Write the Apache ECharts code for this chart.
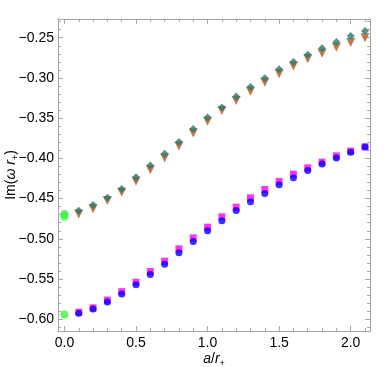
<!DOCTYPE html>
<html>
<head>
<meta charset="utf-8">
<script src="https://cdn.jsdelivr.net/npm/echarts@6/dist/echarts.min.js"></script>
<style>
html, body { margin: 0; padding: 0; background: #fff; }
#chart { width: 390px; height: 367px; }
</style>
</head>
<body>
<div id="chart"></div>
<script>
// a / r+ values
var aVals = [0.1, 0.2, 0.3, 0.4, 0.5, 0.6, 0.7, 0.8, 0.9, 1.0, 1.1,
             1.2, 1.3, 1.4, 1.5, 1.6, 1.7, 1.8, 1.9, 2.0, 2.1];
// upper branch
var tealDiamond = [-0.4652, -0.4580, -0.4490, -0.4380, -0.4236, -0.4088, -0.3942, -0.3797, -0.3636, -0.3493, -0.3366,
                   -0.3229, -0.3113, -0.3005, -0.2893, -0.2802, -0.2711, -0.2632, -0.2553, -0.2479, -0.2417];
var orangeTri = [-0.4690, -0.4625, -0.4525, -0.4420, -0.4285, -0.4140, -0.3995, -0.3845, -0.3685, -0.3537, -0.3405,
                 -0.3280, -0.3165, -0.3052, -0.2948, -0.2850, -0.2762, -0.2692, -0.2617, -0.2558, -0.2500];
// lower branch
var magentaSq = [-0.5912, -0.5858, -0.5762, -0.5657, -0.5539, -0.5406, -0.5277, -0.5124, -0.4988, -0.4855, -0.4726,
                 -0.4606, -0.4490, -0.4386, -0.4286, -0.4195, -0.4117, -0.4046, -0.3969, -0.3909, -0.3856];
var blueDot = [-0.5924, -0.5871, -0.5787, -0.5685, -0.5572, -0.5443, -0.5315, -0.5174, -0.5032, -0.4900, -0.4776,
               -0.4647, -0.4540, -0.4435, -0.4328, -0.4241, -0.4149, -0.4071, -0.3996, -0.3925, -0.3859];
// a = 0 points
var greenA = [0, 0, 0];
var greenY = [-0.4690, -0.4722, -0.5940];

// ticks
var xMajor = [0, 0.5, 1.0, 1.5, 2.0];
var xMinor = [0.1, 0.2, 0.3, 0.4, 0.6, 0.7, 0.8, 0.9, 1.1, 1.2, 1.3, 1.4, 1.6, 1.7, 1.8, 1.9, 2.1];
var yMajor = [-0.60, -0.55, -0.50, -0.45, -0.40, -0.35, -0.30, -0.25];
var yMinor = [-0.61, -0.59, -0.58, -0.57, -0.56, -0.54, -0.53, -0.52, -0.51, -0.49, -0.48, -0.47, -0.46,
              -0.44, -0.43, -0.42, -0.41, -0.39, -0.38, -0.37, -0.36, -0.34, -0.33, -0.32, -0.31,
              -0.29, -0.28, -0.27, -0.26, -0.24, -0.23];

var xMin = -0.045, xMax = 2.135;
var yMin = -0.6146, yMax = -0.2267;
var frameColor = '#a6a6a6';
var font = 'Liberation Sans, Arial, sans-serif';

function pairs(xs, ys) {
	var out = [];
	for (var i = 0; i < xs.length; i++) out.push([xs[i], ys[i]]);
	return out;
}

function xAx(pos, ticks, len, labels) {
	return {
		type : 'value', position : pos, min : xMin, max : xMax,
		axisLine : { show : true, onZero : false, lineStyle : { color : frameColor, width : 1 } },
		axisTick : { show : true, inside : true, length : len, customValues : ticks,
			lineStyle : { color : frameColor } },
		axisLabel : labels ? { show : true, customValues : xMajor, color : '#000', fontSize : 14,
			fontFamily : font, margin : 5,
			formatter : function (v) { return v.toFixed(1); } } : { show : false },
		splitLine : { show : false }
	};
}

function yAx(pos, ticks, len, labels) {
	return {
		type : 'value', position : pos, min : yMin, max : yMax,
		axisLine : { show : true, onZero : false, lineStyle : { color : frameColor, width : 1 } },
		axisTick : { show : true, inside : true, length : len, customValues : ticks,
			lineStyle : { color : frameColor } },
		axisLabel : labels ? { show : true, customValues : yMajor, color : '#000', fontSize : 14,
			fontFamily : font, margin : 4,
			formatter : function (v) { return v.toFixed(2).replace('-', '\u2212'); } } : { show : false },
		splitLine : { show : false }
	};
}

var xAxes = [xAx('bottom', xMajor, 5, true), xAx('bottom', xMinor, 3, false),
             xAx('top', xMajor, 5, false), xAx('top', xMinor, 3, false)];
xAxes[0].name = '{i|a}/{i|r}{s|+}';
xAxes[0].nameLocation = 'middle';
xAxes[0].nameGap = 20;
xAxes[0].nameMoveOverlap = false;
xAxes[0].nameTextStyle = { color : '#000', fontSize : 14, fontFamily : font,
	rich : { i : { fontStyle : 'italic', fontSize : 14, fontFamily : font },
	         s : { fontSize : 9, fontFamily : font, padding : [8, 0, 0, 0] } } };

var yAxes = [yAx('left', yMajor, 5, true), yAx('left', yMinor, 3, false),
             yAx('right', yMajor, 5, false), yAx('right', yMinor, 3, false)];
yAxes[0].name = 'Im({i|\u03c9 r}{s|+})';
yAxes[0].nameLocation = 'middle';
yAxes[0].nameGap = 38;
yAxes[0].nameRotate = 90;
yAxes[0].nameMoveOverlap = false;
yAxes[0].nameTextStyle = { color : '#000', fontSize : 14, fontFamily : font,
	rich : { i : { fontStyle : 'italic', fontSize : 14, fontFamily : font },
	         s : { fontSize : 9, fontFamily : font, padding : [8, 0, 0, 0] } } };

var myChart = echarts.init(document.getElementById('chart'), null, { renderer : 'canvas' });
var option = {
	animation : false,
	grid : { left : 58, right : 20, top : 19, bottom : 36, outerBoundsMode : 'none', containLabel : false },
	xAxis : xAxes,
	yAxis : yAxes,
	series : [ {
		type : 'scatter', symbol : 'triangle', symbolRotate : 180, symbolSize : [9, 9],
		itemStyle : { color : '#b3561f' },
		data : pairs(aVals, orangeTri)
	}, {
		type : 'scatter', symbol : 'diamond', symbolSize : [8, 8],
		itemStyle : { color : '#2a786b' },
		data : pairs(aVals, tealDiamond)
	}, {
		type : 'scatter', symbol : 'rect', symbolSize : 7,
		itemStyle : { color : '#ff00ff' },
		data : pairs(aVals, magentaSq)
	}, {
		type : 'scatter', symbol : 'circle', symbolSize : 7,
		itemStyle : { color : '#0000ff' },
		data : pairs(aVals, blueDot)
	}, {
		type : 'scatter', symbol : 'circle', symbolSize : 8,
		itemStyle : { color : '#3ff03f' },
		data : pairs(greenA, greenY)
	} ]
};
myChart.setOption(option);
</script>
</body>
</html>
